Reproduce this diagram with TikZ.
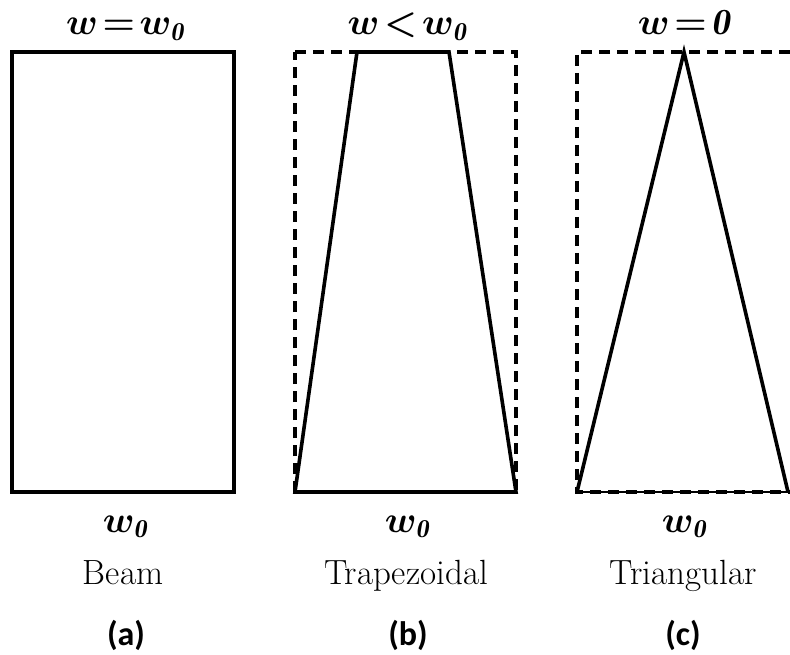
\RequirePackage{fix-cm}
\documentclass[tikz,border=0pt]{standalone}
\usepackage{amsmath}
\usepackage{fontspec}
\newfontfamily\capfont{Carlito}
\usetikzlibrary{positioning,calc}

\begin{document}
\begin{tikzpicture}[x=1pt, y=-1pt,
    outline/.style={line width=3.6pt, line join=miter},
    envelope/.style={line width=3.4pt, dash pattern=on 11pt off 7pt},
    thinbase/.style={line width=1.6pt},
    widthlabel/.style={font=\fontsize{37}{40}\selectfont\boldmath, inner sep=0pt, anchor=base},
    namelabel/.style={font=\fontsize{35}{38}\selectfont, inner sep=0pt, anchor=base},
    caplabel/.style={font=\capfont\bfseries\fontsize{34}{38}\selectfont, inner sep=0pt, anchor=base}
]
\useasboundingbox (0,0) rectangle (790,655);

% Beam (left)
\coordinate (a1) at (12,52);
\coordinate (a2) at (234,52);
\coordinate (a3) at (234,492);
\coordinate (a4) at (12,492);
\draw[outline] (a1) -- (a2) -- (a3) -- (a4) -- cycle;

\node[widthlabel] (atop) at (125,35) {$w\!=\!w_{\mathit{0}}$};
\node[widthlabel] (abot) at (125,532) {$w_{\mathit{0}}$};
\node[namelabel] (aname) at (123,584) {Beam};
\node[caplabel] (acap) at (126,645) {(a)};

% Trapezoidal (middle)
\coordinate (b1) at (295,52);
\coordinate (b2) at (516,52);
\coordinate (b3) at (516,492);
\coordinate (b4) at (295,492);
\coordinate (b5) at (357,52);
\coordinate (b6) at (449,52);
\draw[envelope] (b1) -- (b2) -- (b3) -- (b4) -- cycle;
\draw[outline] (b4) -- (b5) -- (b6) -- (b3) -- cycle;

\node[widthlabel] (btop) at (407,35) {$w\!<\!w_{\mathit{0}}$};
\node[widthlabel] (bbot) at (407,532) {$w_{\mathit{0}}$};
\node[namelabel] (bname) at (406,584) {Trapezoidal};
\node[caplabel] (bcap) at (408,645) {(b)};

% Triangular (right)
\coordinate (c1) at (577,52);
\coordinate (c2) at (790,52);
\coordinate (c3) at (790,492);
\coordinate (c4) at (577,492);
\coordinate (c5) at (684,52);
\coordinate (c6) at (788,492);
\draw[envelope] (c2) -- (c1) -- (c4) -- (c3);
\draw[outline] (c4) -- (c5) -- (c6);
\draw[thinbase] (c4) -- (c6);

\node[widthlabel] (ctop) at (684,35) {$w\!=\!\mathit{0}$};
\node[widthlabel] (cbot) at (684,532) {$w_{\mathit{0}}$};
\node[namelabel] (cname) at (683,584) {Triangular};
\node[caplabel] (ccap) at (683,645) {(c)};

\end{tikzpicture}
\end{document}
